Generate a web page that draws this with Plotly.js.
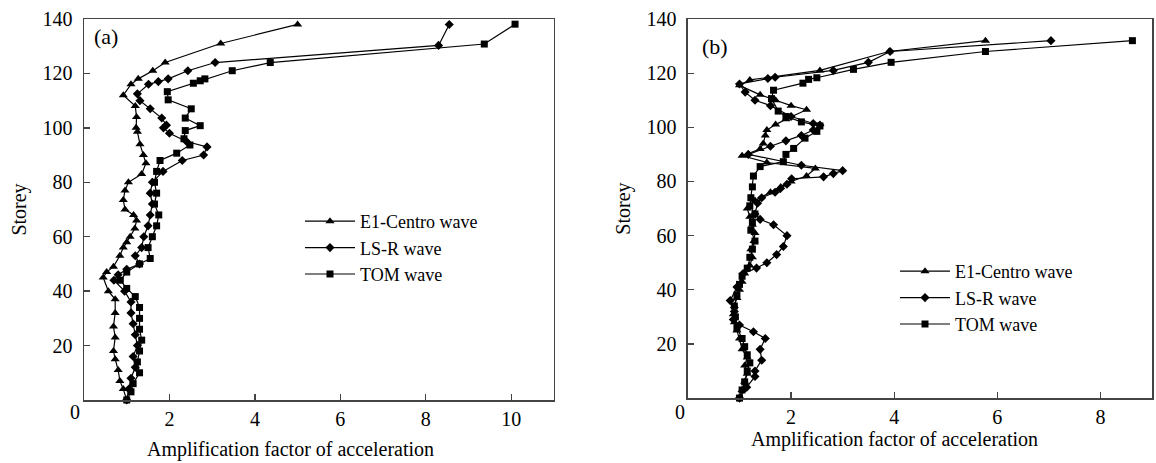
<!DOCTYPE html>
<html>
<head>
<meta charset="utf-8">
<script src="https://cdn.plot.ly/plotly-3.0.1.min.js"></script>
<style>html,body{margin:0;padding:0;background:#fff;}#chart{width:1156px;height:463px;}</style>
</head>
<body>
<div id="chart"></div>
<script>
// ---------- Panel (a) data: [amplification factor, storey] ----------
const aElX = [1.0,0.92,0.84,0.80,0.73,0.69,0.73,0.69,0.73,0.73,0.57,0.45,0.53,0.69,0.84,0.92,1.0,1.08,1.19,1.23,1.16,0.96,0.92,0.96,1.04,1.35,1.45,1.39,1.31,1.25,1.22,1.23,1.20,0.92,1.10,1.27,1.61,1.90,3.2,5.0];
const aElY = [0,4,7,11,15,18,23,27,32,37,40,45,47,49,53,56,58,60,63,66,68,70,73.5,77,80,83,87,90,94,98.6,100,104,108,112,116,118,121,124,131,138];

const aLsX = [1.0,1.05,1.1,1.2,1.15,1.25,1.2,1.15,1.1,1.1,0.95,0.7,0.8,1.0,1.3,1.2,1.35,1.4,1.5,1.55,1.6,1.55,1.6,1.85,2.3,2.8,2.88,2.4,2.0,1.86,1.93,1.82,1.55,1.31,1.25,1.51,1.74,1.97,2.43,3.07,8.3,8.55];
const aLsY = [0,4,8,12,16,20,24,28,32,36,40,44,46,48,50,53,56,60,64,68,72,76,80,84,88,90,93,95,98,100,101,103.6,107,110,112.5,116,117,118,121,124,130.3,138];

const aTmX = [1.0,1.1,1.15,1.3,1.25,1.3,1.35,1.3,1.3,1.3,1.2,1.0,0.85,1.0,1.3,1.55,1.5,1.6,1.7,1.75,1.65,1.7,1.65,1.7,1.78,2.17,2.48,2.34,2.37,2.72,2.37,2.51,1.97,1.95,2.56,2.72,2.83,3.47,4.36,9.37,10.09];
const aTmY = [0,3,6,10,14,18,22,26,30,34,38,41,44,47,50,52,56,60,64,68,72,76,80,84,88,90.7,93.7,96,99,100.8,103.6,107,110.3,113.3,116.4,117.3,118,121,124,130.8,138.1];

// ---------- Panel (b) data ----------
const bElX = [1.0,1.05,1.1,1.15,1.1,1.15,1.05,1.0,0.95,0.9,0.88,0.9,0.95,1.0,1.05,1.1,1.2,1.25,1.22,1.28,1.3,1.25,1.2,1.15,1.3,1.6,1.8,2.0,2.3,2.47,1.53,1.05,1.4,1.46,1.5,1.53,1.7,1.9,2.3,2.0,1.7,1.4,1.0,1.2,2.56,3.9,5.77];
const bElY = [0,3,6,9,12,15,18,22,25,28,31,34,37,40,43,46,49,52,55,58,61,64,67,70,73,76,78,80,82,84.8,87,89.5,92,94,97,99,101,103,106.5,108,110,112,115.5,117.5,121,128,132];

const bLsX = [1.0,1.14,1.3,1.3,1.43,1.4,1.5,1.27,1.0,0.88,0.9,0.82,0.95,1.07,1.33,1.53,1.72,1.85,1.92,1.66,1.4,1.3,1.35,1.43,1.69,1.79,1.92,2.01,2.63,2.82,3.0,2.2,1.17,1.6,1.9,2.2,2.43,2.56,2.43,2.0,1.6,1.3,1.11,1.0,1.55,1.69,2.82,3.5,3.92,7.04];
const bLsY = [0,4,8,10,14,18,22,24.5,27,29,32,36,41,46,48,50,53,56,60,64,66,68,72,74,76,77.3,79,81,81.7,82.9,84,86,90,93,95,97,99,100.8,101.4,104,108,110,113,116,118,118.5,121,124,128,132];

const bTmX = [1.0,1.05,1.1,1.15,1.2,1.15,1.1,1.05,0.95,0.92,0.9,0.95,1.0,1.05,1.15,1.2,1.25,1.3,1.22,1.25,1.3,1.2,1.22,1.25,1.27,1.4,1.85,1.9,2.05,2.27,2.5,2.56,2.2,1.9,1.75,1.62,1.66,2.23,2.34,2.5,3.21,3.94,5.77,8.62];
const bTmY = [0,3,6,10,13,16,19,22,26,30,34,38,42,45,48,52,55,58,62,65,68,71,74,78,82,85.5,87.3,90,92.2,96,98.5,100.5,102,104,106,110.6,113.7,116.3,117.7,118.3,121.4,124,128,132];

const seriesNames = ['E1-Centro wave','LS-R wave','TOM wave'];
const symbols = ['triangle-up','diamond','square'];
const symSizes = [8,7,7];
const yTicks = [20,40,60,80,100,120,140];
const aXTicks = [2,4,6,8,10];
const bXTicks = [2,4,6,8];
const xTitle = 'Amplification factor of acceleration';
const yTitle = 'Storey';

const FONT = 'Liberation Serif';

function mk(x, y, i, xa, ya, lg) {
  return {
    x: x, y: y, type: 'scatter', mode: 'lines+markers',
    name: seriesNames[i], xaxis: xa, yaxis: ya, legend: lg,
    line: {color: '#000', width: 1.2},
    marker: {symbol: symbols[i], size: symSizes[i], color: '#000'},
    cliponaxis: false
  };
}

const data = [
  mk(aElX, aElY, 0, 'x', 'y', 'legend'),
  mk(aLsX, aLsY, 1, 'x', 'y', 'legend'),
  mk(aTmX, aTmY, 2, 'x', 'y', 'legend'),
  mk(bElX, bElY, 0, 'x2', 'y2', 'legend2'),
  mk(bLsX, bLsY, 1, 'x2', 'y2', 'legend2'),
  mk(bTmX, bTmY, 2, 'x2', 'y2', 'legend2')
];

const axCommon = {
  showline: true, mirror: true, linecolor: '#444', linewidth: 1.5,
  ticks: 'inside', ticklen: 6, tickwidth: 1.3, tickcolor: '#444',
  showgrid: false, zeroline: false,
  tickfont: {family: FONT, size: 20, color: '#000'}
};

const legCommon = {
  xanchor: 'left', yanchor: 'top', bgcolor: 'rgba(0,0,0,0)', itemwidth: 50,
  font: {family: FONT, size: 18, color: '#000'}
};

const layout = {
  width: 1156, height: 463,
  margin: {l: 84, r: 4, t: 19, b: 63},
  paper_bgcolor: '#fff', plot_bgcolor: '#fff',
  font: {family: FONT, size: 20, color: '#000'},
  xaxis: Object.assign({}, axCommon, {
    domain: [0, 0.440], range: [0, 11], tickvals: aXTicks, anchor: 'y'
  }),
  yaxis: Object.assign({}, axCommon, {
    domain: [0, 1], range: [0, 140], tickvals: yTicks, anchor: 'x', ticklabelstandoff: 6,
    title: {text: yTitle, font: {family: FONT, size: 20}, standoff: 10}
  }),
  xaxis2: Object.assign({}, axCommon, {
    domain: [0.5655, 1], range: [0, 9], tickvals: bXTicks, anchor: 'y2'
  }),
  yaxis2: Object.assign({}, axCommon, {
    domain: [0.005, 1], range: [0, 140], tickvals: yTicks, anchor: 'x2', ticklabelstandoff: 6,
    title: {text: yTitle, font: {family: FONT, size: 20}, standoff: 10}
  }),
  legend: Object.assign({}, legCommon, {x: (300 - 84) / 1068, y: (400 - 203) / 381}),
  legend2: Object.assign({}, legCommon, {x: (895 - 84) / 1068, y: (400 - 253) / 381}),
  showlegend: true,
  annotations: [
    {text: xTitle, xref: 'paper', yref: 'paper', x: (290 - 84) / 1068, y: (400 - 449) / 381, xanchor: 'center', yanchor: 'middle', showarrow: false, font: {family: FONT, size: 20}},
    {text: xTitle, xref: 'paper', yref: 'paper', x: (894 - 84) / 1068, y: (400 - 439) / 381, xanchor: 'center', yanchor: 'middle', showarrow: false, font: {family: FONT, size: 20}},
    {text: '(a)', xref: 'x', yref: 'y', x: 0.18, y: 133.5, xanchor: 'left', yanchor: 'middle', showarrow: false, font: {family: FONT, size: 22}},
    {text: '(b)', xref: 'x2', yref: 'y2', x: 0.23, y: 130, xanchor: 'left', yanchor: 'middle', showarrow: false, font: {family: FONT, size: 22}},
    {text: '0', xref: 'paper', yref: 'paper', x: (75 - 84) / 1068, y: (400 - 412) / 381, xanchor: 'center', yanchor: 'middle', showarrow: false, font: {family: FONT, size: 20}},
    {text: '0', xref: 'paper', yref: 'paper', x: (680 - 84) / 1068, y: (400 - 412) / 381, xanchor: 'center', yanchor: 'middle', showarrow: false, font: {family: FONT, size: 20}}
  ]
};

Plotly.newPlot('chart', data, layout, {displayModeBar: false, staticPlot: true});
</script>
</body>
</html>
